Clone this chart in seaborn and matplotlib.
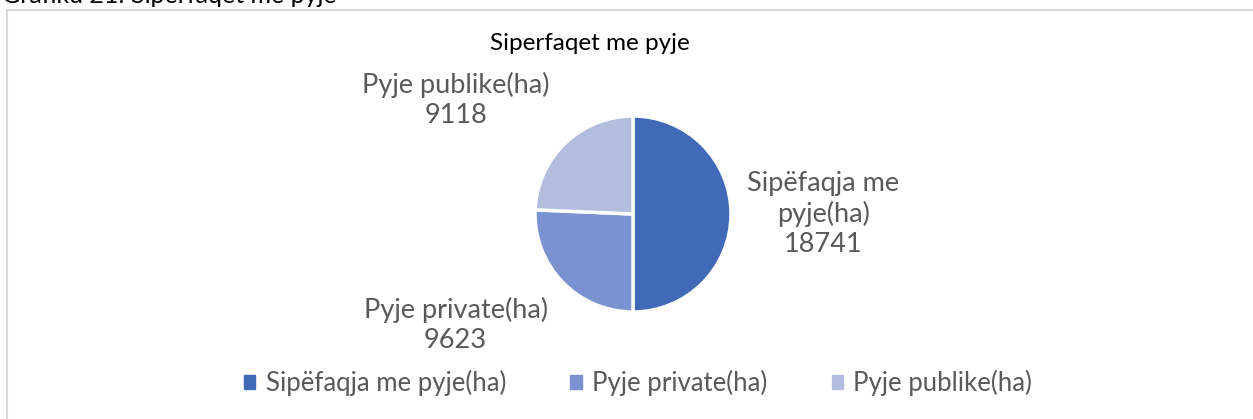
import matplotlib
matplotlib.use("Agg")
import matplotlib.pyplot as plt
import matplotlib.patches as mpatches
import seaborn as sns

# data
categories = ["Sipëfaqja me pyje(ha)", "Pyje private(ha)", "Pyje publike(ha)"]
values = [18741, 9623, 9118]
slice_labels = ["Sipëfaqja me\npyje(ha)", "Pyje private(ha)", "Pyje publike(ha)"]

sns.set_theme(style="white")
plt.rcParams["font.family"] = ["Lato", "DejaVu Sans"]

colors = ["#4069B8", "#7A93D0", "#B3BEDF"]
text_col = "#595959"

W, H = 1253, 419
fig = plt.figure(figsize=(W / 100, H / 100), dpi=100)

# outer frame of the chart box
frame = mpatches.Rectangle((7 / W, -0.1), 1.2, (H - 10) / H + 0.1, transform=fig.transFigure,
                           fill=False, edgecolor="#D9D9D9", linewidth=1.5)
fig.patches.append(frame)

# caption clipped at top (as in the source)
fig.text(2 / W, 1.0 + 5 / H, "Grafiku 21: Siperfaqet me pyje", ha="left", va="center",
         fontsize=18, color="black")

# pie axes (center ~ 633,214 radius ~98 px)
r = 98
ax = fig.add_axes([(633 - r) / W, (H - 214 - r) / H, 2 * r / W, 2 * r / H])
wedges, _ = ax.pie(values, colors=colors, startangle=90, counterclock=False,
                   wedgeprops=dict(edgecolor="white", linewidth=2.5))
ax.set_xlim(-1, 1)
ax.set_ylim(-1, 1)
ax.set_aspect("equal")
ax.axis("off")

# data labels
label_pos = [(1.94, 0.0), (-1.81, -1.13), (-1.81, 1.16)]
for (x, y), lab, v in zip(label_pos, slice_labels, values):
    ax.text(x, y, f"{lab}\n{v}", ha="center", va="center", fontsize=19.5,
            color=text_col, linespacing=1.26, clip_on=False)

fig.text(590 / W, 1 - 43 / H, "Siperfaqet me pyje", ha="center", va="center",
         fontsize=17.5, color="black")

handles = [mpatches.Patch(color=c, label=l) for c, l in zip(colors, categories)]
fig.legend(handles=handles, loc="center", bbox_to_anchor=(638 / W, 1 - 383 / H), ncol=3,
           frameon=False, fontsize=18.5, handlelength=0.45, handleheight=0.45,
           handletextpad=0.4, columnspacing=2.5, labelcolor=text_col)

fig.savefig("out.png", dpi=100)
